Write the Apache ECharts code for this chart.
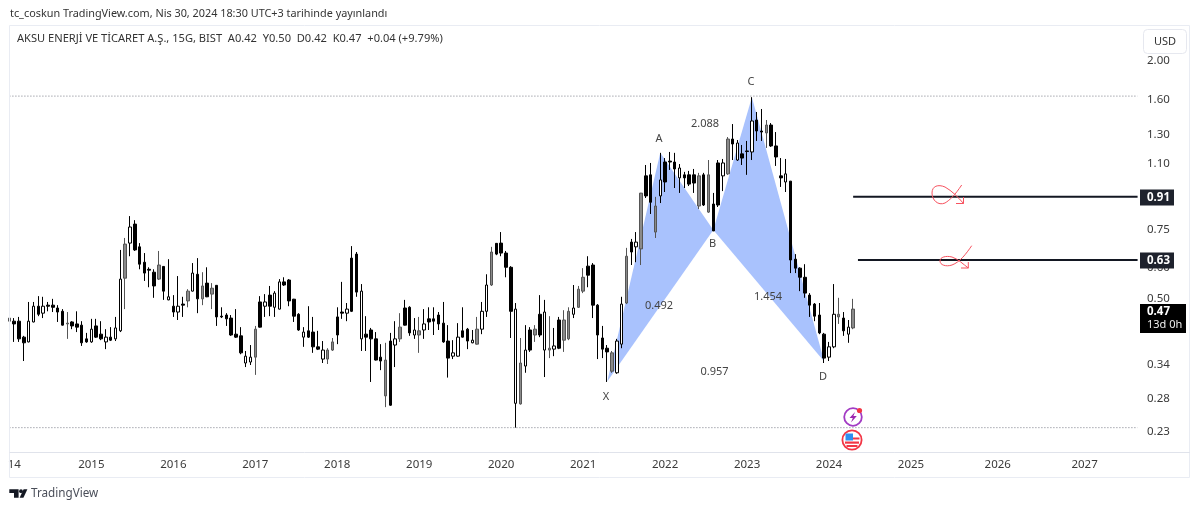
<!DOCTYPE html>
<html>
<head>
<meta charset="utf-8">
<title>AKSU</title>
<script src="https://cdn.jsdelivr.net/npm/echarts@6/dist/echarts.min.js"></script>
<style>
  html, body { margin: 0; padding: 0; background: #fff; }
  #chart { width: 1200px; height: 511px; }
</style>
</head>
<body>
<div id="chart"></div>
<script>
// U = hollow up bar, D = black down bar, G = grey up bar
const kinds = 'GDDDUUDUDDDDGDDDDUDDUDUUGUDDDDDGDUDUDGUDGDGDDDDDDUUGDUDUUDDDDUDDDUGGDDUDDUDDDDGDUGDDUGUDDDDDUUDDUGUUGDDDDUGUDGDUGUDGGUGGDDDDDGUUGDUGDDGUDDDUDDDGDGDDUGDUDDUDDGDDDUDDDDDDDDUUGDUG';
const highs = [.450,.447,.450,.403,.491,.491,.508,.506,.491,.500,.482,.471,.463,.439,.465,.439,.410,.445,.445,.439,.419,.424,.450,.665,.713,.810,.791,.692,.653,.601,.594,.661,.605,.630,.511,.571,.506,.529,.616,.634,.584,.601,.548,.542,.476,.460,.455,.471,.424,.369,.382,.427,.508,.514,.539,.523,.561,.567,.561,.500,.460,.424,.479,.450,.415,.391,.375,.398,.476,.552,.488,.680,.657,.545,.452,.422,.412,.384,.387,.410,.439,.460,.497,.479,.447,.450,.471,.476,.476,.463,.491,.429,.393,.434,.476,.422,.417,.450,.491,.577,.677,.692,.738,.661,.605,.488,.398,.429,.424,.429,.511,.497,.452,.422,.450,.468,.476,.542,.539,.598,.641,.616,.485,.427,.382,.369,.396,.506,.673,.709,.738,.927,1.091,1.104,.906,1.171,1.136,1.177,1.171,1.097,1.048,1.054,1.066,1.042,1.042,1.123,.927,1.123,1.130,1.284,1.385,1.262,1.226,1.255,1.620,1.486,1.512,1.418,1.393,1.322,1.136,1.130,.994,.649,.601,.612,.517,.488,.488,.410,.389,.545,.503,.463,.442,.500];
const bodyHighs = [.447,.439,.439,.400,.439,.479,.479,.479,.482,.482,.474,.465,.434,.437,.432,.429,.396,.419,.427,.407,.400,.400,.422,.561,.688,.760,.773,.677,.619,.594,.584,.609,.604,.506,.479,.479,.485,.523,.581,.577,.539,.548,.532,.541,.452,.455,.447,.407,.403,.358,.356,.419,.491,.491,.511,.517,.552,.552,.558,.499,.457,.412,.415,.412,.378,.371,.371,.389,.450,.463,.471,.634,.649,.523,.407,.417,.396,.356,.350,.391,.396,.424,.474,.476,.417,.415,.432,.445,.445,.455,.434,.391,.365,.400,.415,.419,.393,.419,.465,.542,.657,.691,.692,.653,.601,.471,.344,.371,.417,.419,.457,.463,.375,.380,.442,.442,.465,.474,.529,.567,.605,.609,.482,.398,.375,.365,.391,.485,.641,.696,.696,.926,1.024,1.030,.859,1.000,1.110,1.116,1.110,1.072,1.030,1.030,1.030,1.024,1.030,1.030,.869,1.104,1.104,1.269,1.269,1.240,1.164,1.184,1.410,1.418,1.330,1.377,1.377,1.219,1.024,1.036,.993,.630,.598,.567,.511,.485,.455,.407,.378,.457,.457,.447,.424,.471];
const bodyLows = [.439,.432,.396,.387,.389,.437,.457,.460,.479,.476,.463,.429,.432,.427,.424,.387,.389,.389,.400,.396,.389,.393,.396,.415,.564,.692,.665,.612,.581,.591,.539,.561,.523,.497,.463,.463,.482,.494,.523,.500,.500,.506,.514,.450,.450,.445,.405,.400,.365,.344,.346,.356,.424,.479,.479,.476,.471,.542,.494,.452,.417,.400,.400,.378,.373,.352,.352,.371,.405,.460,.460,.465,.520,.396,.400,.396,.350,.348,.284,.269,.382,.396,.429,.410,.405,.405,.417,.437,.439,.432,.389,.354,.358,.358,.400,.391,.387,.384,.419,.465,.542,.649,.653,.601,.465,.272,.271,.338,.371,.405,.405,.371,.371,.373,.375,.393,.396,.457,.476,.523,.574,.482,.405,.373,.367,.328,.325,.384,.488,.657,.677,.669,.911,.878,.738,.911,.988,1.110,1.066,1.012,1.012,.976,.982,.859,.864,.829,.743,.864,1.024,1.036,1.233,1.123,1.136,1.180,1.177,1.330,1.322,1.315,1.219,1.143,1.012,.988,.627,.598,.567,.517,.482,.452,.410,.354,.356,.378,.450,.415,.407,.422];
const lows = [.437,.389,.389,.348,.388,.436,.452,.447,.465,.463,.437,.428,.396,.419,.412,.380,.387,.387,.398,.393,.373,.391,.391,.412,.471,.641,.661,.594,.555,.535,.503,.558,.497,.496,.450,.442,.450,.476,.522,.460,.482,.505,.471,.427,.447,.427,.403,.398,.362,.336,.340,.321,.423,.450,.452,.450,.470,.539,.479,.437,.415,.378,.398,.365,.371,.344,.342,.369,.384,.445,.439,.463,.506,.369,.369,.308,.349,.330,.266,.268,.336,.389,.428,.403,.396,.365,.396,.417,.405,.417,.387,.316,.352,.357,.399,.373,.386,.383,.407,.450,.539,.645,.641,.567,.398,.236,.270,.325,.367,.389,.400,.317,.354,.358,.373,.367,.393,.447,.474,.517,.535,.447,.352,.354,.308,.325,.323,.375,.485,.609,.619,.609,.900,.820,.713,.874,.932,1.060,.954,.927,.954,.965,.927,.844,.859,.825,.742,.854,.937,1.030,1.123,1.117,1.091,1.030,1.123,1.255,1.255,1.205,1.212,1.085,.960,.932,.581,.581,.523,.503,.450,.439,.407,.344,.348,.375,.432,.403,.387,.419];
const barCount = 235;
const yearBars = [1, 17, 34, 51, 68, 85, 102, 119, 136, 153, 170, 187, 205, 223];
const yearLabels = ['14', '2015', '2016', '2017', '2018', '2019', '2020', '2021', '2022', '2023', '2024', '2025', '2026', '2027'];
const priceTicks = [2.00, 1.60, 1.30, 1.10, 0.75, 0.60, 0.50, 0.42, 0.34, 0.28, 0.23];
// X A B C D
const patternBars = [124, 135, 146, 154, 169];
const patternPrices = [.309, 1.171, .747, 1.62, .347];
const patternTriangles = [[0, 1, 2], [2, 3, 4]];
const dottedLevels = [1.63, .236];
const level1 = .907;
const level2 = .627;
const level1Start = 175;
const level2Start = 176;

const font = '"Noto Sans", sans-serif';
const categories = [];
for (let i = 0; i < barCount; i++) {
  const k = yearBars.indexOf(i);
  categories.push(k >= 0 ? yearLabels[k] : '');
}

const candles = highs.map(function (h, i) {
  const down = kinds[i] === 'D';
  const open = down ? bodyHighs[i] : bodyLows[i];
  const close = down ? bodyLows[i] : bodyHighs[i];
  const item = { value: [open, close, lows[i], h] };
  if (kinds[i] === 'G') {
    item.itemStyle = { color: '#8a8a8a', borderColor: '#555', borderColor0: '#555' };
  }
  return item;
});

function hline(price, from, type, width, color) {
  return {
    type: 'line',
    data: [[from, price], [barCount - 1, price]],
    showSymbol: false,
    silent: true,
    z: 3,
    lineStyle: { type: type, width: width, color: color }
  };
}

const chart = echarts.init(document.getElementById('chart'));
const option = {
  animation: false,
  backgroundColor: '#fff',
  grid: { left: 7, top: 25, width: 1133, height: 428 },
  xAxis: {
    type: 'category',
    data: categories,
    boundaryGap: true,
    axisLine: { show: false },
    axisTick: { show: false },
    splitLine: { show: false },
    axisLabel: {
      interval: function (i, v) { return v !== ''; },
      color: '#3a3a3a',
      fontFamily: font,
      fontSize: 11.5,
      margin: 6
    }
  },
  yAxis: {
    type: 'log',
    position: 'right',
    min: 0.2036,
    max: 2.467,
    axisLine: { show: false },
    axisTick: { show: false },
    splitLine: { show: false },
    axisLabel: {
      customValues: priceTicks,
      formatter: function (v) { return Number(v).toFixed(2); },
      color: '#3a3a3a',
      fontFamily: font,
      fontSize: 11.5,
      margin: 7,
      padding: [2, 0, 0, 0]
    }
  },
  series: [
    {
      type: 'custom',
      z: 1,
      silent: true,
      data: patternTriangles.map(function (t) { return [t[0]]; }),
      renderItem: function (params, api) {
        const t = patternTriangles[params.dataIndex];
        const pts = t.map(function (k) { return api.coord([patternBars[k], patternPrices[k]]); });
        return { type: 'polygon', shape: { points: pts }, style: { fill: '#a9c2fd' } };
      }
    },
    {
      type: 'candlestick',
      z: 2,
      barWidth: 3,
      data: candles,
      itemStyle: {
        color: '#fff',
        color0: '#000',
        borderColor: '#000',
        borderColor0: '#000',
        borderWidth: 1
      }
    },
    hline(dottedLevels[0], 0, [1, 2], 1, '#787b86'),
    hline(dottedLevels[1], 0, [1, 2], 1, '#787b86'),
    hline(level1, level1Start, 'solid', 2, '#131722'),
    hline(level2, level2Start, 'solid', 2, '#131722')
  ]
};
chart.setOption(option);

// page furniture and annotations
function txt(s, x, y, size, color, align, weight) {
  return {
    type: 'text', x: x, y: y, z: 50, silent: true,
    style: {
      text: s, fill: color || '#333',
      font: (weight || 'normal') + ' ' + size + 'px ' + font,
      align: align || 'left', verticalAlign: 'middle'
    }
  };
}
function rect(x, y, w, h, fill, stroke, r, z) {
  return {
    type: 'rect', z: z || 40, silent: true,
    shape: { x: x, y: y, width: w, height: h, r: r || 0 },
    style: { fill: fill, stroke: stroke || null, lineWidth: 1 }
  };
}
function curve(p, color) {
  return {
    type: 'bezierCurve', z: 40, silent: true,
    shape: { x1: p[0], y1: p[1], cpx1: p[2], cpy1: p[3], cpx2: p[4], cpy2: p[5], x2: p[6], y2: p[7] },
    style: { stroke: color, fill: null, lineWidth: 1 }
  };
}
function poly(points, color, closed) {
  return closed
    ? { type: 'polygon', z: 42, silent: true, shape: { points: points }, style: { fill: color } }
    : { type: 'polyline', z: 40, silent: true, shape: { points: points }, style: { stroke: color, fill: null, lineWidth: 1 } };
}
function circle(cx, cy, r, fill, stroke, lw) {
  return {
    type: 'circle', z: 41, silent: true,
    shape: { cx: cx, cy: cy, r: r },
    style: { fill: fill, stroke: stroke || null, lineWidth: lw || 1 }
  };
}

function tag(price, label) {
  const y = chart.convertToPixel({ yAxisIndex: 0 }, price);
  return [
    rect(1140, Math.round(y) - 7.5, 34, 16, '#1e222d'),
    txt(label, 1147, Math.round(y) + 0.5, 11.5, '#fff', 'left', 'bold')
  ];
}

const red = '#f7525f';
const gfx = [
  txt('tc_coskun TradingView.com, Nis 30, 2024 18:30 UTC+3 tarihinde yayınlandı', 10, 14, 10.85, '#333'),
  txt('AKSU ENERJİ VE TİCARET A.Ş., 15G, BIST  A0.42  Y0.50  D0.42  K0.47  +0.04 (+9.79%)', 17, 39, 11.1, '#333'),
  rect(9.5, 25.5, 1180, 452, 'transparent', '#e9ecf3'),
  { type: 'line', z: 40, silent: true, shape: { x1: 9.5, y1: 452.5, x2: 1190, y2: 452.5 }, style: { stroke: '#e0e3eb', lineWidth: 1 } },
  rect(1143.5, 29.5, 43, 24, '#fff', '#e6e8ef', 4),
  txt('USD', 1165, 42, 11, '#333', 'center'),
  // harmonic labels
  txt('X', 606, 397, 11, '#444', 'center'),
  txt('A', 659, 139, 11, '#444', 'center'),
  txt('B', 712.5, 244, 11, '#444', 'center'),
  txt('C', 751, 82, 11, '#444', 'center'),
  txt('D', 823, 377, 11, '#444', 'center'),
  txt('2.088', 705, 124, 11, '#444', 'center'),
  txt('0.492', 659, 306, 11, '#444', 'center'),
  txt('1.454', 768, 297, 11, '#444', 'center'),
  txt('0.957', 714.5, 372, 11, '#444', 'center'),
  // hand drawn marks
  curve([961.7, 185, 955, 195, 950, 200, 945, 203], red),
  curve([945, 203, 938, 206, 932, 200, 932, 193], red),
  curve([932, 193, 932, 186, 938, 184, 945, 187], red),
  curve([945, 187, 952, 191, 958, 197, 963.5, 203.5], red),
  poly([[963.5, 197], [963.5, 203.5], [956, 203.5]], red),
  curve([971.7, 245.7, 966, 254, 960, 262, 952, 265], red),
  curve([952, 265, 946, 267, 940, 265, 940, 261], red),
  curve([940, 261, 940, 257, 946, 255.5, 952, 257], red),
  curve([952, 257, 958, 259, 963, 264, 968.3, 268], red),
  poly([[968.3, 262], [968.3, 268], [961, 268]], red),
  // calendar icons
  circle(853, 417, 8.8, '#fff', '#a23bc4', 1.8),
  poly([[855, 412], [849.5, 418], [852.8, 418], [851, 422.5], [856.8, 416], [853.4, 416]], '#9c27b0', true),
  circle(859.5, 410.5, 2.6, '#f23645'),
  circle(852, 440, 9.6, '#fff', '#f23645', 1.8),
  rect(845, 441.5, 14, 2.2, '#f23645', null, 0, 45),
  rect(846.5, 445, 11, 2, '#f23645', null, 0, 45),
  rect(845.5, 433.5, 7.5, 7, '#2e8ff0', null, 0, 45),
  rect(853, 437.5, 6.5, 2, '#f23645', null, 0, 45),
  // logo
  poly([[9.3, 489.3], [18.6, 489.3], [18.6, 497.7], [14, 497.7], [14, 493], [9.3, 493]], '#131722', true),
  circle(21, 491.2, 1.9, '#131722'),
  poly([[23.6, 489.3], [27.4, 489.3], [23.4, 497.7], [19.6, 497.7]], '#131722', true),
  txt('TradingView', 31, 494, 11.7, '#4a4e59')
];
tag(level1, '0.91').concat(tag(level2, '0.63')).forEach(function (e) { gfx.push(e); });
gfx.push(rect(1140, 304, 46, 29, '#000'));
gfx.push(txt('0.47', 1147, 312, 11.5, '#fff', 'left', 'bold'));
gfx.push(txt('13d 0h', 1147, 325, 11, '#eee'));
chart.setOption({ graphic: gfx });
</script>
</body>
</html>
